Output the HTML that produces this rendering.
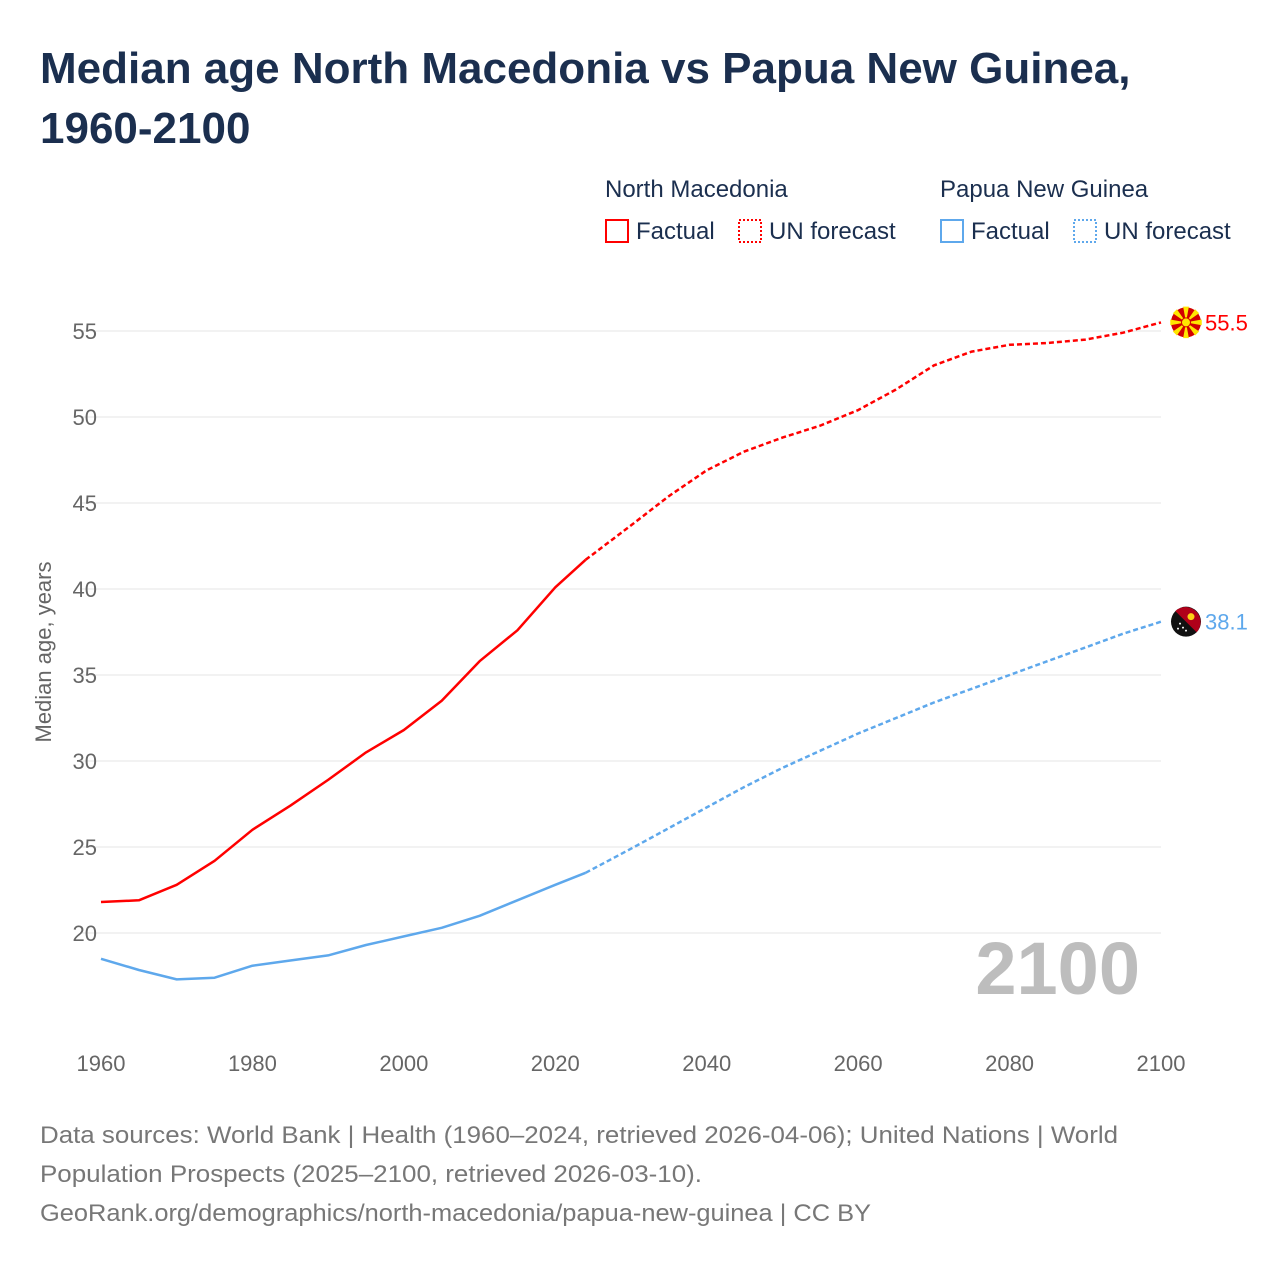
<!DOCTYPE html>
<html><head><meta charset="utf-8"><style>
body{margin:0;background:#fff;width:1280px;height:1280px;overflow:hidden;font-family:"Liberation Sans",sans-serif}
</style></head><body>
<svg width="1280" height="1280" xmlns="http://www.w3.org/2000/svg" id="chart">
<text x="40" y="83" font-size="44" font-weight="bold" fill="#1b2f4f">Median age North Macedonia vs Papua New Guinea,</text>
<text x="40" y="143" font-size="44" font-weight="bold" fill="#1b2f4f">1960-2100</text>
<g font-size="24" fill="#1b2f4f">
<text x="605" y="197">North Macedonia</text>
<text x="940" y="197">Papua New Guinea</text>
<rect x="606" y="220" width="22" height="22" fill="none" stroke="#f00" stroke-width="2"/>
<text x="636" y="239">Factual</text>
<rect x="739" y="220" width="22" height="22" fill="none" stroke="#f00" stroke-width="2" stroke-dasharray="2,2"/>
<text x="769" y="239">UN forecast</text>
<rect x="941" y="220" width="22" height="22" fill="none" stroke="#5ea8ec" stroke-width="2"/>
<text x="971" y="239">Factual</text>
<rect x="1074" y="220" width="22" height="22" fill="none" stroke="#5ea8ec" stroke-width="2" stroke-dasharray="2,2"/>
<text x="1104" y="239">UN forecast</text>
</g>
<g id="grid"></g>
<g id="axes" font-size="22" fill="#666"></g>
<text x="51" y="652" font-size="22" fill="#666" transform="rotate(-90 51 652)" text-anchor="middle">Median age, years</text>
<text x="1140" y="994" font-size="74" font-weight="bold" fill="#bdbdbd" text-anchor="end">2100</text>
<g id="series"></g>
<g font-size="24" fill="#777">
<text x="40" y="1143" textLength="1078" lengthAdjust="spacingAndGlyphs">Data sources: World Bank | Health (1960–2024, retrieved 2026-04-06); United Nations | World</text>
<text x="40" y="1182" textLength="662" lengthAdjust="spacingAndGlyphs">Population Prospects (2025–2100, retrieved 2026-03-10).</text>
<text x="40" y="1221" textLength="831" lengthAdjust="spacingAndGlyphs">GeoRank.org/demographics/north-macedonia/papua-new-guinea | CC BY</text>
</g>
</svg>
<script>
const years=[1960,1965,1970,1975,1980,1985,1990,1995,2000,2005,2010,2015,2020,2024,2030,2035,2040,2045,2050,2055,2060,2065,2070,2075,2080,2085,2090,2095,2100];
const nmValues=[21.8,21.9,22.8,24.2,26.0,27.4,28.9,30.5,31.8,33.5,35.8,37.6,40.1,41.7,43.7,45.4,46.9,48.0,48.8,49.5,50.4,51.6,53.0,53.8,54.2,54.3,54.5,54.9,55.5];
const pngValues=[18.5,17.85,17.3,17.4,18.1,18.4,18.7,19.3,19.8,20.3,21.0,21.9,22.8,23.5,24.9,26.1,27.3,28.5,29.6,30.6,31.6,32.5,33.4,34.2,35.0,35.8,36.6,37.4,38.1];
const xTicks=[1960,1980,2000,2020,2040,2060,2080,2100];
const yTicks=[20,25,30,35,40,45,50,55];
const lastFactual=2024;
const NS="http://www.w3.org/2000/svg";
const X=y=>101+(y-1960)*(1060/140);
const Y=v=>933-(v-20)*(602/35);
const grid=document.getElementById('grid'),axes=document.getElementById('axes'),ser=document.getElementById('series');
function mk(tag,attrs,parent){const e=document.createElementNS(NS,tag);for(const k in attrs)e.setAttribute(k,attrs[k]);parent.appendChild(e);return e;}
yTicks.forEach(v=>{
 const l=mk('line',{x1:80,x2:1161,y1:Y(v),y2:Y(v),stroke:'#e6e6e6','stroke-width':1},grid);
 
 
 const t=mk('text',{x:97,y:Y(v)+8,'text-anchor':'end'},axes);t.textContent=v;
 
 
});
xTicks.forEach(v=>{
 const t=mk('text',{x:X(v),y:1071,'text-anchor':'middle'},axes);t.textContent=v;
 
 
});
function draw(vals,color,name){
 const f=[],p=[];
 years.forEach((y,i)=>{const pt=X(y).toFixed(1)+','+Y(vals[i]).toFixed(1);if(y<=lastFactual)f.push(pt);if(y>=lastFactual)p.push(pt);});
 const a=mk('polyline',{points:f.join(' '),fill:'none',stroke:color,'stroke-width':2.5,'stroke-linejoin':'round'},ser);
 
 
 const b=mk('polyline',{points:p.join(' '),fill:'none',stroke:color,'stroke-width':2.5,'stroke-dasharray':'5,3'},ser);
 
 
 const last=vals[vals.length-1];
 const t=mk('text',{x:1205,y:Y(last)+8,'font-size':22,fill:color},ser);t.textContent=last.toFixed(1);
 
 
 return Y(last);
}
const yn=draw(nmValues,'#f00','north-macedonia');
const yp=draw(pngValues,'#5ea8ec','papua-new-guinea');
const g1=mk('g',{},ser);


mk('circle',{cx:1186,cy:yn,r:15,fill:'#d20000'},g1);
for(let i=0;i<8;i++){const a=i*Math.PI/4;mk('polygon',{points:`1186,${yn} ${1186+16*Math.cos(a-0.18)},${yn+16*Math.sin(a-0.18)} ${1186+16*Math.cos(a+0.18)},${yn+16*Math.sin(a+0.18)}`,fill:'#ffe600'},g1);}
mk('circle',{cx:1186,cy:yn,r:4.5,fill:'#ffe600',stroke:'#d20000','stroke-width':1},g1);
const g2=mk('g',{},ser);


mk('circle',{cx:1186,cy:yp,r:15,fill:'#111'},g2);
mk('path',{d:`M${1186-10.6},${yp-10.6} A15,15 0 0 1 ${1186+10.6},${yp+10.6} Z`,fill:'#b0001a'},g2);
mk('circle',{cx:1191,cy:yp-5,r:3.5,fill:'#fcd116'},g2);
[[-6,2],[-3,6],[0,9],[-8,7]].forEach(d=>mk('circle',{cx:1186+d[0],cy:yp+d[1],r:1,fill:'#fff'},g2));
</script>
</body></html>
